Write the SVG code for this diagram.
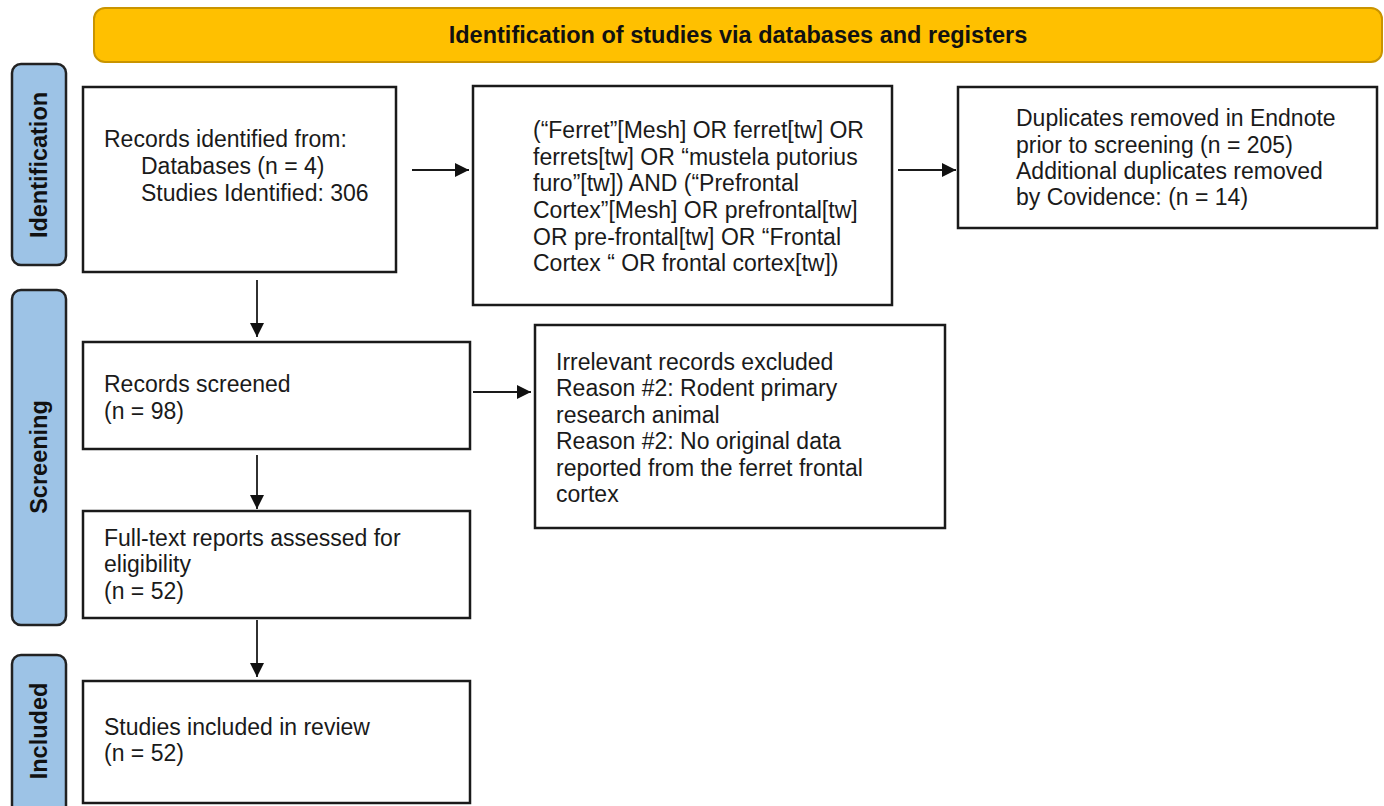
<svg xmlns="http://www.w3.org/2000/svg" width="1384" height="806" viewBox="0 0 1384 806">
<style>
.box{fill:#fff;stroke:#1a1a1a;stroke-width:2.5}
.side{fill:#9DC3E6;stroke:#222;stroke-width:2.5}
.t{font-family:"Liberation Sans",Arial,sans-serif;font-size:23px;fill:#1a1a1a}
.tb{font-family:"Liberation Sans",Arial,sans-serif;font-size:23.5px;font-weight:bold;fill:#111}
.c{stroke:#1a1a1a;stroke-width:1.8;fill:none;marker-end:url(#ah)}
</style>
<defs>
<marker id="ah" markerUnits="userSpaceOnUse" markerWidth="16" markerHeight="16" refX="14" refY="7" orient="auto">
<path d="M0,0 L14,7 L0,14 Z" fill="#111"/>
</marker>
</defs>
<rect width="1384" height="806" fill="#fff"/>
<g id="banner">
<rect x="94" y="8" width="1288" height="54" rx="11" fill="#FFC000" stroke="#C99400" stroke-width="2"/>
<text class="tb" x="738" y="43" text-anchor="middle">Identification of studies via databases and registers</text>
</g>
<g id="side-identification">
<rect class="side" x="12" y="64" width="54" height="201" rx="9"/>
<text class="tb" transform="translate(47,165) rotate(-90)" text-anchor="middle">Identification</text>
</g>
<g id="side-screening">
<rect class="side" x="12" y="290" width="54" height="335" rx="9"/>
<text class="tb" transform="translate(47,457) rotate(-90)" text-anchor="middle">Screening</text>
</g>
<g id="side-included">
<rect class="side" x="12" y="655" width="54" height="160" rx="9"/>
<text class="tb" transform="translate(47,731) rotate(-90)" text-anchor="middle">Included</text>
</g>
<g id="records-identified">
<rect class="box" x="83" y="87" width="313" height="185"/>
<text class="t"><tspan x="104" y="147">Records identified from:</tspan><tspan x="141" y="174">Databases (n = 4)</tspan><tspan x="141" y="201">Studies Identified: 306</tspan></text>
</g>
<g id="search-string">
<rect class="box" x="473" y="86" width="419" height="219"/>
<text class="t"><tspan x="533" y="138">(“Ferret”[Mesh] OR ferret[tw] OR</tspan><tspan x="533" y="165">ferrets[tw] OR “mustela putorius</tspan><tspan x="533" y="191">furo”[tw]) AND (“Prefrontal</tspan><tspan x="533" y="218">Cortex”[Mesh] OR prefrontal[tw]</tspan><tspan x="533" y="245">OR pre-frontal[tw] OR “Frontal</tspan><tspan x="533" y="271">Cortex “ OR frontal cortex[tw])</tspan></text>
</g>
<g id="duplicates">
<rect class="box" x="958" y="87" width="419" height="141"/>
<text class="t"><tspan x="1016" y="126">Duplicates removed in Endnote</tspan><tspan x="1016" y="153">prior to screening (n = 205)</tspan><tspan x="1016" y="179">Additional duplicates removed</tspan><tspan x="1016" y="205">by Covidence: (n = 14)</tspan></text>
</g>
<g id="records-screened">
<rect class="box" x="83" y="342" width="387" height="107"/>
<text class="t"><tspan x="104" y="392">Records screened</tspan><tspan x="104" y="419">(n = 98)</tspan></text>
</g>
<g id="irrelevant-excluded">
<rect class="box" x="535" y="325" width="410" height="203"/>
<text class="t"><tspan x="556" y="370">Irrelevant records excluded</tspan><tspan x="556" y="396">Reason #2: Rodent primary</tspan><tspan x="556" y="423">research animal</tspan><tspan x="556" y="449">Reason #2: No original data</tspan><tspan x="556" y="476">reported from the ferret frontal</tspan><tspan x="556" y="502">cortex</tspan></text>
</g>
<g id="full-text">
<rect class="box" x="83" y="511" width="387" height="107"/>
<text class="t"><tspan x="104" y="546">Full-text reports assessed for</tspan><tspan x="104" y="572">eligibility</tspan><tspan x="104" y="599">(n = 52)</tspan></text>
</g>
<g id="included">
<rect class="box" x="83" y="681" width="387" height="122"/>
<text class="t"><tspan x="104" y="735">Studies included in review</tspan><tspan x="104" y="761">(n = 52)</tspan></text>
</g>
<g id="connectors">
<line class="c" x1="412" y1="170" x2="469" y2="170"/>
<line class="c" x1="898" y1="170" x2="956" y2="170"/>
<line class="c" x1="257" y1="280" x2="257" y2="337"/>
<line class="c" x1="473" y1="392" x2="531" y2="392"/>
<line class="c" x1="257" y1="455" x2="257" y2="509"/>
<line class="c" x1="257" y1="620" x2="257" y2="677"/>
</g>
</svg>
